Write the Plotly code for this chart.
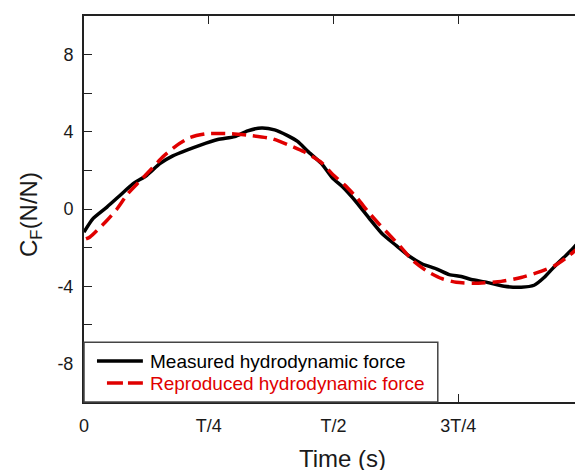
import plotly.graph_objects as go

# Time in fractions of the period T
t_measured = [0.000, 0.018, 0.046, 0.072, 0.098, 0.126, 0.152, 0.178, 0.206, 0.232,
              0.268, 0.302, 0.328, 0.356, 0.382, 0.408, 0.428, 0.448, 0.476, 0.498,
              0.518, 0.546, 0.572, 0.598, 0.626, 0.652, 0.678, 0.706, 0.732, 0.756,
              0.776, 0.808, 0.842, 0.876, 0.902, 0.922, 0.942, 0.962, 0.978, 1.000]
cf_measured = [-1.20, -0.50, 0.10, 0.70, 1.30, 1.75, 2.35, 2.75, 3.05, 3.30,
               3.60, 3.75, 4.05, 4.20, 4.10, 3.80, 3.50, 3.00, 2.35, 1.60,
               1.15, 0.35, -0.50, -1.30, -1.90, -2.45, -2.85, -3.10, -3.40, -3.50,
               -3.65, -3.80, -4.00, -4.05, -3.95, -3.55, -3.00, -2.50, -2.10, -1.45]

t_reproduced = [0.004, 0.012, 0.042, 0.066, 0.088, 0.112, 0.136, 0.158, 0.186, 0.212,
                0.246, 0.296, 0.336, 0.376, 0.412, 0.442, 0.476, 0.498, 0.522, 0.548,
                0.568, 0.592, 0.616, 0.636, 0.658, 0.686, 0.716, 0.746, 0.782, 0.836,
                0.876, 0.908, 0.942, 0.968, 1.000]
cf_reproduced = [-1.55, -1.45, -0.70, 0.00, 0.80, 1.45, 2.10, 2.70, 3.30, 3.70,
                 3.90, 3.90, 3.80, 3.65, 3.30, 2.95, 2.40, 1.80, 1.25, 0.55,
                 -0.10, -0.80, -1.45, -2.00, -2.65, -3.20, -3.60, -3.80, -3.85, -3.75,
                 -3.55, -3.30, -2.95, -2.50, -1.80]

x_tickvals = [0, 0.25, 0.5, 0.75, 1.0]
x_ticktext = ["0", "T/4", "T/2", "3T/4", "T"]
y_tickvals = [-8, -4, 0, 4, 8]
y_ticktext = ["-8", "-4", "0", "4", "8"]

series_names = ["Measured hydrodynamic force", "Reproduced hydrodynamic force"]
series_colors = ["black", "#e00000"]

FONT = "Arial, Liberation Sans, sans-serif"

fig = go.Figure()
fig.add_trace(go.Scatter(
    x=t_measured, y=cf_measured, mode="lines", name=series_names[0],
    line=dict(color=series_colors[0], width=3.5, shape="spline", smoothing=0.6),
))
fig.add_trace(go.Scatter(
    x=t_reproduced, y=cf_reproduced, mode="lines", name=series_names[1],
    line=dict(color=series_colors[1], width=3.5, dash="14px,7px", shape="spline", smoothing=0.6),
))

axis_common = dict(
    showline=True, linecolor="#222222", linewidth=2, mirror="ticks",
    ticks="inside", tickcolor="#222222", ticklen=8, tickwidth=1.2,
    showgrid=False, zeroline=False,
    tickfont=dict(family=FONT, size=18, color="#1a1a1a"),
)

fig.update_xaxes(
    range=[0, 1], tickvals=x_tickvals, ticktext=x_ticktext,
    ticklabelstandoff=6,
    **axis_common,
)
fig.update_yaxes(
    range=[-10, 10], tickvals=y_tickvals, ticktext=y_ticktext,
    ticklabelstandoff=5,
    minor=dict(ticks="inside", dtick=2, ticklen=8, tickcolor="#222222", tickwidth=1.2),
    **axis_common,
)

# axis titles
fig.add_annotation(
    text="Time (s)", xref="paper", yref="paper", x=0.518, y=0,
    xanchor="center", yanchor="top", yshift=-41, showarrow=False,
    font=dict(family=FONT, size=24, color="#1a1a1a"),
)
fig.add_annotation(
    text="C<sub>F</sub>(N/N)", xref="paper", yref="paper", x=0, y=0.4845,
    xanchor="center", yanchor="middle", xshift=-53, textangle=-90, showarrow=False,
    font=dict(family=FONT, size=24, color="#1a1a1a"),
)

# legend box (drawn manually to match spacing)
fig.add_shape(type="rect", xref="paper", yref="paper", x0=0, x1=0.709, y0=0.0, y1=0.155,
              line=dict(color="#444444", width=1.5), fillcolor="white", layer="above")
fig.add_shape(type="line", xref="paper", yref="paper", x0=0.026, x1=0.118, y0=0.106, y1=0.106,
              line=dict(color=series_colors[0], width=3.5), layer="above")
fig.add_shape(type="line", xref="paper", yref="paper", x0=0.046, x1=0.118, y0=0.049, y1=0.049,
              line=dict(color=series_colors[1], width=3.5, dash="16px,5px"), layer="above")
fig.add_annotation(text=series_names[0], xref="paper", yref="paper", x=0.128, y=0.106,
                   xanchor="left", yanchor="middle", showarrow=False,
                   font=dict(family=FONT, size=19, color=series_colors[0]))
fig.add_annotation(text=series_names[1], xref="paper", yref="paper", x=0.128, y=0.049,
                   xanchor="left", yanchor="middle", showarrow=False,
                   font=dict(family=FONT, size=19, color=series_colors[1]))

# page body has an 8px margin, so the figure is shifted by 8px; the plot's
# right edge sits at the window edge, clipping the last tick label
fig.update_layout(
    width=600, height=462,
    margin=dict(l=76, r=25, t=8, b=68, autoexpand=False),
    plot_bgcolor="white", paper_bgcolor="white",
    font=dict(family=FONT, color="black"),
    showlegend=False,
)

fig.write_html("out.html")
